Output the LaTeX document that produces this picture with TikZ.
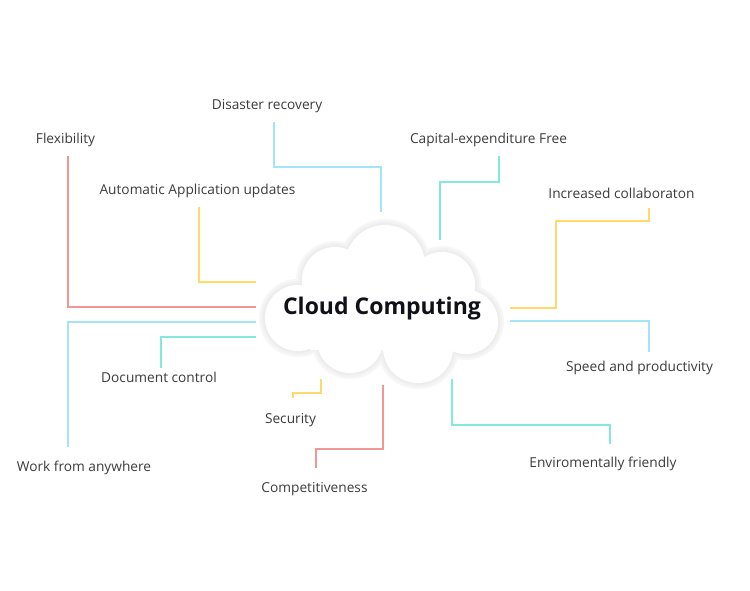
\documentclass[tikz,border=0pt]{standalone}
\usepackage{fontspec}
\setmainfont{Open Sans}
\definecolor{cred}{HTML}{F09696}
\definecolor{cblue}{HTML}{A3E4F5}
\definecolor{cteal}{HTML}{84E8DC}
\definecolor{cyel}{HTML}{FFD96A}
\definecolor{txt}{HTML}{3C3C3C}
\definecolor{ttl}{HTML}{101018}
\newcommand\cloudshape{(385,265) circle (40pt) (335,280) circle (33pt) (442,285) circle (33pt) (298,318) circle (33pt) (466,322) circle (32pt) (350,340) circle (33pt) (418,348) circle (35pt)}
\begin{document}
\begin{tikzpicture}[x=1pt,y=-1pt,
  lbl/.style={font=\fontsize{13.7}{16}\selectfont, text=txt, inner sep=0pt, text height=10pt, text depth=3.5pt},
  conn/.style={line width=1.6pt}]
\useasboundingbox (0,0) rectangle (750,590);
\fill[white] (0,0) rectangle (750,590);
% labels
\node[lbl] (dis) at (267,106) {Disaster recovery};
\node[lbl] (flex) at (65.5,140) {Flexibility};
\node[lbl] (auto) at (197.5,191) {Automatic Application updates};
\node[lbl] (cap) at (488.5,140) {Capital-expenditure Free};
\node[lbl] (inc) at (621.5,195) {Increased collaboraton};
\node[lbl] (spd) at (639.5,368) {Speed and productivity};
\node[lbl] (env) at (603,464) {Enviromentally friendly};
\node[lbl] (work) at (84,468) {Work from anywhere};
\node[lbl] (doc) at (159,379) {Document control};
\node[lbl] (sec) at (290.5,420) {Security};
\node[lbl] (comp) at (314.5,489) {Competitiveness};
% connector end points
\coordinate (dis1) at (274,122); \coordinate (dis2) at (381,212);
\coordinate (flex1) at (68,156); \coordinate (flex2) at (256,307);
\coordinate (auto1) at (199,207); \coordinate (auto2) at (256,282);
\coordinate (cap1) at (499,156); \coordinate (cap2) at (440,240);
\coordinate (inc1) at (649,208); \coordinate (inc2) at (510,308);
\coordinate (spd1) at (649,352); \coordinate (spd2) at (510,321);
\coordinate (env1) at (610,444); \coordinate (env2) at (452,379);
\coordinate (work1) at (68,447); \coordinate (work2) at (256,322);
\coordinate (doc1) at (161,368); \coordinate (doc2) at (256,337);
\coordinate (sec1) at (293,398); \coordinate (sec2) at (321,379);
\coordinate (comp1) at (316,468); \coordinate (comp2) at (383,385);
% connectors
\draw[conn,cblue] (dis1) -- (274,167) -| (dis2);
\draw[conn,cred] (flex1) |- (flex2);
\draw[conn,cyel] (auto1) |- (auto2);
\draw[conn,cteal] (cap1) -- (499,182) -| (cap2);
\draw[conn,cyel] (inc1) -- (649,221) -| (556,308) -- (inc2);
\draw[conn,cblue] (spd2) -| (spd1);
\draw[conn,cteal] (env2) |- (610,425) -- (env1);
\draw[conn,cblue] (work1) |- (work2);
\draw[conn,cteal] (doc1) |- (doc2);
\draw[conn,cyel] (sec2) -- (321,393) -| (sec1);
\draw[conn,cred] (comp2) -- (383,449) -| (comp1);
% cloud
\draw[black!3,line width=12pt] \cloudshape;
\draw[black!5,line width=8pt] \cloudshape;
\draw[black!7,line width=4pt] \cloudshape;
\fill[white] \cloudshape;
\fill[white] (310,270) rectangle (460,350);
\node[font=\fontsize{23}{26}\selectfont\bfseries, text=ttl, inner sep=0pt] (cc) at (382,309) {Cloud Computing};
\end{tikzpicture}
\end{document}
